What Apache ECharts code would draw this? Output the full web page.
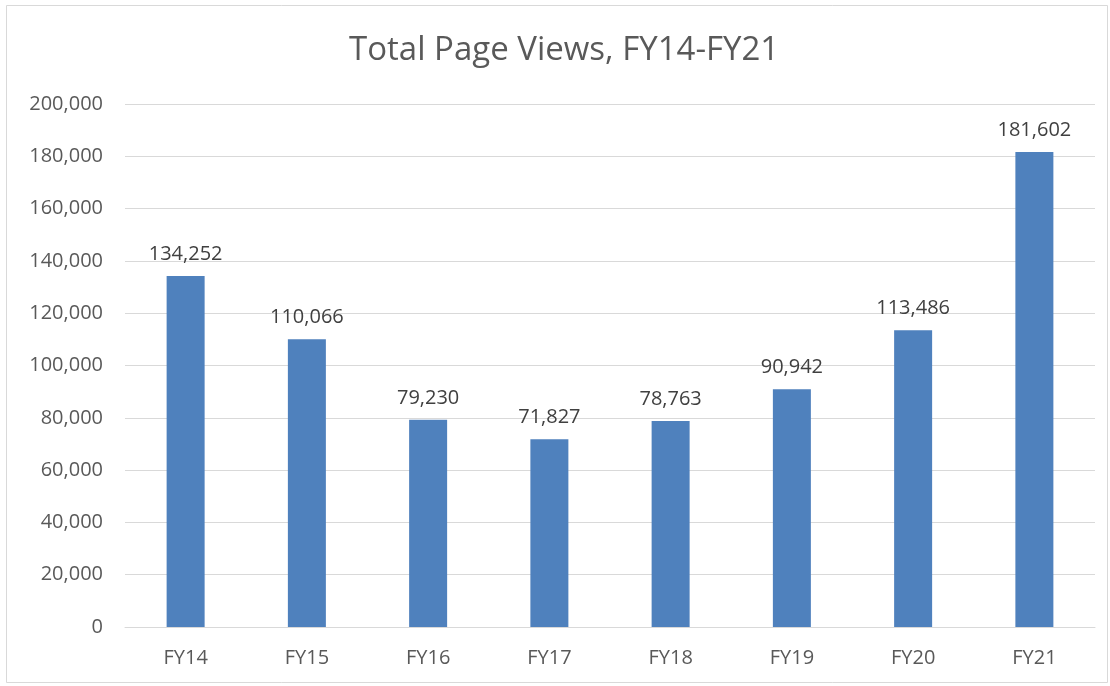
<!DOCTYPE html>
<html><head><meta charset="utf-8">
<script src="https://cdn.jsdelivr.net/npm/echarts@6/dist/echarts.min.js"></script>
<style>html,body{margin:0;padding:0;background:#fff}#c{width:1110px;height:686px}</style>
</head><body><div id="c"></div>
<script>
const categories = ['FY14','FY15','FY16','FY17','FY18','FY19','FY20','FY21'];
const pageViews = [134252, 110066, 79230, 71827, 78763, 90942, 113486, 181602];
const titleText = 'Total Page Views, FY14-FY21';
const yMin = 0, yMax = 200000, yStep = 20000;

const font = '"Open Sans", "Liberation Sans", sans-serif';
const chart = echarts.init(document.getElementById('c'));
chart.setOption({
  animation: false,
  backgroundColor: '#fff',
  graphic: [{type:'rect', shape:{x:6.5,y:5.5,width:1101,height:677}, style:{fill:'none', stroke:'#d9d9d9', lineWidth:1}, silent:true}],
  title: {text: titleText, left: 344, top: 29, textStyle:{fontFamily:font, fontSize:33, fontWeight:'normal', color:'#595959'}},
  grid: {left:125, right:15, top:104, bottom:59},
  xAxis: {type:'category', data: categories,
    axisLine:{lineStyle:{color:'#d9d9d9', width:1}}, axisTick:{show:false},
    axisLabel:{fontFamily:font, fontSize:20, color:'#595959', margin:21}},
  yAxis: {type:'value', min:yMin, max:yMax, interval:yStep,
    axisLine:{show:false}, axisTick:{show:false},
    splitLine:{lineStyle:{color:'#d9d9d9', width:1}},
    axisLabel:{fontFamily:font, fontSize:20, color:'#595959', margin:22,
      formatter: v => v.toLocaleString('en-US')}},
  series: [{type:'bar', data: pageViews, barWidth:38, itemStyle:{color:'#4f81bd'},
    label:{show:true, position:'top', distance:12, fontFamily:font, fontSize:20, color:'#404040',
      formatter: p => p.value.toLocaleString('en-US')}}]
});
</script></body></html>
